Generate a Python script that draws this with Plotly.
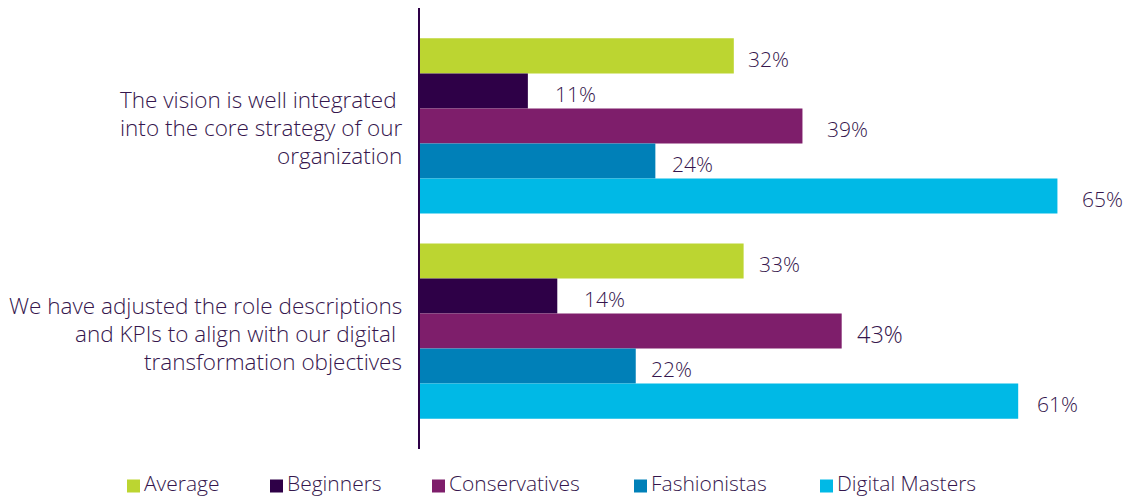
import plotly.graph_objects as go

# Survey statements, split into the lines shown beside each bar group
statements = [
    ["The vision is well integrated ", "into the core strategy of our", "organization"],
    ["We have adjusted the role descriptions", "and KPIs to align with our digital ", "transformation objectives"],
]

segments = ["Average", "Beginners", "Conservatives", "Fashionistas", "Digital Masters"]
seg_colors = ["#BCD531", "#2E0047", "#7E1E6B", "#0080B8", "#00B9E6"]

# Share of respondents agreeing (%) per segment, one value per statement
values = {
    "Average": [32, 33],
    "Beginners": [11, 14],
    "Conservatives": [39, 43],
    "Fashionistas": [24, 22],
    "Digital Masters": [65, 61],
}

# Label styling: horizontal gap after each bar (px) and font size
label_gap = {
    "Average": [12, 13],
    "Beginners": [25, 25],
    "Conservatives": [23, 13],
    "Fashionistas": [15, 13],
    "Digital Masters": [23, 17],
}
label_size = {
    "Average": [21, 21],
    "Beginners": [21, 21],
    "Conservatives": [21, 23.5],
    "Fashionistas": [21, 21],
    "Digital Masters": [21, 21],
}

text_color = "#35164D"
font_family = "Open Sans, Lato, sans-serif"

# Layout geometry (px)
W, H = 1130, 498
M_L, M_R, M_T, M_B = 420, 0, 8, 49
plot_w = W - M_L - M_R
plot_h = H - M_T - M_B

ypos = list(range(len(statements)))
group_width = 0.854
bar_w = group_width / len(segments)

fig = go.Figure()
annotations = []
for k, (seg, col) in enumerate(zip(segments, seg_colors)):
    offset = -group_width / 2 + k * bar_w
    fig.add_trace(go.Bar(
        name=seg,
        orientation="h",
        x=values[seg],
        y=ypos,
        width=bar_w,
        offset=offset,
        marker=dict(color=col, line=dict(width=0)),
        showlegend=False,
    ))
    for i, v in enumerate(values[seg]):
        annotations.append(dict(
            xref="x", yref="y",
            x=v, y=ypos[i] + offset + bar_w / 2,
            xanchor="left", yanchor="middle",
            xshift=label_gap[seg][i], yshift=-3,
            text=f"{v}%", showarrow=False,
            font=dict(size=label_size[seg][i], color=text_color, family=font_family, weight=300),
        ))

# Statement labels, right aligned against the axis line
for i, lines in enumerate(statements):
    n = len(lines)
    for j, line in enumerate(lines):
        annotations.append(dict(
            xref="paper", yref="y",
            x=0, y=ypos[i],
            xanchor="right", yanchor="middle",
            xshift=-16,
            yshift=-((j - (n - 1) / 2) * 28) - 2,
            text=line, showarrow=False,
            font=dict(size=22.5, color=text_color, family=font_family, weight=300),
        ))

# Legend row along the bottom: square swatch followed by the segment name
legend_x_px = [127, 270, 432, 634, 820]
legend_y_px = 486
sq = 13
shapes = []
for seg, col, px in zip(segments, seg_colors, legend_x_px):
    x0 = (px - M_L) / plot_w
    x1 = (px + sq - M_L) / plot_w
    yc = (H - M_B - legend_y_px) / plot_h
    shapes.append(dict(
        type="rect", xref="paper", yref="paper",
        x0=x0, x1=x1, y0=yc - sq / 2 / plot_h, y1=yc + sq / 2 / plot_h,
        fillcolor=col, line=dict(width=0),
    ))
    annotations.append(dict(
        xref="paper", yref="paper",
        x=x1, y=yc, xanchor="left", yanchor="middle",
        xshift=3, yshift=3,
        text=seg, showarrow=False, borderpad=0,
        font=dict(size=21, color=text_color, family=font_family, weight=300),
    ))

fig.update_layout(
    width=W, height=H,
    margin=dict(l=M_L, r=M_R, t=M_T, b=M_B, autoexpand=False),
    paper_bgcolor="white", plot_bgcolor="white",
    barmode="overlay",
    showlegend=False,
    annotations=annotations,
    shapes=shapes,
)
fig.update_xaxes(range=[0, 72.4], visible=False, showgrid=False, zeroline=False)
fig.update_yaxes(
    range=[1.575, -0.575],
    showticklabels=False, ticks="", showgrid=False, zeroline=False,
    showline=True, linecolor="#2E0047", linewidth=2,
)

fig.write_html("out.html")
